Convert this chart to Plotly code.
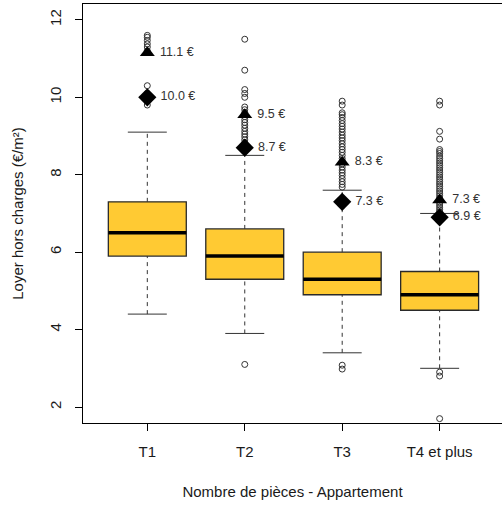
import plotly.graph_objects as go

# ---------------- data ----------------
categories = ["T1", "T2", "T3", "T4 et plus"]
positions = [1, 2, 3, 4]

q1 = [5.9, 5.3, 4.9, 4.5]
median = [6.5, 5.9, 5.3, 4.9]
q3 = [7.3, 6.6, 6.0, 5.5]
whisker_low = [4.4, 3.9, 3.4, 3.0]
whisker_high = [9.1, 8.5, 7.6, 7.0]

outliers_T1 = [11.6, 11.55, 11.47, 11.38, 11.3, 11.2, 10.3, 10.1, 10.0, 9.8]
outliers_T2 = [11.5, 10.7, 10.2, 10.1, 10.0, 9.75, 9.68, 9.6, 9.5, 9.42, 9.35,
               9.28, 9.2, 9.12, 9.05, 8.98, 8.9, 8.82, 8.75, 8.68, 8.6, 3.1]
outliers_T3 = [9.9, 9.8, 9.6, 9.55, 9.48, 9.4, 9.32, 9.25, 9.18, 9.1, 9.02,
               8.95, 8.88, 8.8, 8.72, 8.65, 8.58, 8.5, 8.42, 8.35, 8.28, 8.2,
               8.12, 8.05, 7.98, 7.9, 7.82, 7.75, 7.68, 3.08, 2.98]
outliers_T4 = [9.9, 9.8, 9.12, 8.92, 8.65, 8.6, 8.55, 8.48, 8.42, 8.36, 8.3,
               8.24, 8.18, 8.12, 8.06, 8.0, 7.94, 7.88, 7.82, 7.76, 7.7, 7.64,
               7.58, 7.52, 7.46, 7.4, 7.34, 7.28, 7.22, 7.16, 7.1, 7.05,
               2.9, 2.8, 1.7]
outliers = [outliers_T1, outliers_T2, outliers_T3, outliers_T4]

triangle_values = [11.15, 9.55, 8.32, 7.35]
triangle_labels = ["11.1 €", "9.5 €", "8.3 €", "7.3 €"]
diamond_values = [10.0, 8.7, 7.3, 6.9]
diamond_labels = ["10.0 €", "8.7 €", "7.3 €", "6.9 €"]

y_ticks = [2, 4, 6, 8, 10, 12]

# ---------------- style ----------------
FONT = "Liberation Sans, Arial, sans-serif"
FILL = "#FFCA33"
DARK = "#333333"
BOX_W = 0.8
CAP_W = 0.4

fig = go.Figure()

# whiskers (dashed)
wx, wy = [], []
for p, lo, a, b, hi in zip(positions, whisker_low, q1, q3, whisker_high):
    wx += [p, p, None, p, p, None]
    wy += [lo, a, None, b, hi, None]
fig.add_trace(go.Scatter(x=wx, y=wy, mode="lines",
                         line=dict(color=DARK, width=1, dash="4px,4px"),
                         hoverinfo="skip", showlegend=False))

# caps
cx, cy = [], []
for p, lo, hi in zip(positions, whisker_low, whisker_high):
    cx += [p - CAP_W / 2, p + CAP_W / 2, None, p - CAP_W / 2, p + CAP_W / 2, None]
    cy += [lo, lo, None, hi, hi, None]
fig.add_trace(go.Scatter(x=cx, y=cy, mode="lines",
                         line=dict(color=DARK, width=1),
                         hoverinfo="skip", showlegend=False))

# boxes
fig.add_trace(go.Box(x=positions, q1=q1, median=median, q3=q3,
                     lowerfence=q1, upperfence=q3, width=BOX_W,
                     fillcolor=FILL, line=dict(color="#2a2a2a", width=1.3),
                     boxpoints=False, showlegend=False, whiskerwidth=0))

# medians
mx, my = [], []
for p, m in zip(positions, median):
    mx += [p - BOX_W / 2, p + BOX_W / 2, None]
    my += [m, m, None]
fig.add_trace(go.Scatter(x=mx, y=my, mode="lines",
                         line=dict(color="black", width=3.5),
                         hoverinfo="skip", showlegend=False))

# outliers
ox, oy = [], []
for p, vals in zip(positions, outliers):
    ox += [p] * len(vals)
    oy += vals
fig.add_trace(go.Scatter(x=ox, y=oy, mode="markers",
                         marker=dict(symbol="circle-open", size=6,
                                     color=DARK, line=dict(width=1, color=DARK)),
                         showlegend=False))

# triangles and diamonds with labels
fig.add_trace(go.Scatter(x=positions, y=triangle_values, mode="markers+text",
                         marker=dict(symbol="triangle-up", size=13, color="black"),
                         text=[" " + t for t in triangle_labels],
                         textposition="middle right",
                         textfont=dict(family=FONT, size=12.5, color=DARK),
                         showlegend=False))
fig.add_trace(go.Scatter(x=positions, y=diamond_values, mode="markers+text",
                         marker=dict(symbol="diamond", size=14, color="black"),
                         text=[" " + t for t in diamond_labels],
                         textposition="middle right",
                         textfont=dict(family=FONT, size=12.5, color=DARK),
                         showlegend=False))

fig.update_layout(
    width=502, height=509,
    margin=dict(l=83, r=0, t=4, b=86),
    paper_bgcolor="white", plot_bgcolor="white",
    font=dict(family=FONT, size=15, color="#1a1a1a"),
    showlegend=False, hovermode=False,
)
fig.update_xaxes(
    range=[0.34, 4.64], tickvals=positions, ticktext=categories,
    ticks="outside", ticklen=7, tickcolor="black", tickwidth=1,
    showline=True, linecolor="black", linewidth=1, mirror=True,
    showgrid=False, zeroline=False, ticklabelstandoff=8, automargin=False,
    title=dict(text="Nombre de pièces - Appartement", standoff=27,
               font=dict(size=15)),
)
fig.update_yaxes(
    range=[1.587, 12.41], tickvals=y_ticks,
    ticks="outside", ticklen=7, tickcolor="black", tickwidth=1,
    showline=True, linecolor="black", linewidth=1, automargin=False,
    showgrid=False, zeroline=False, tickangle=-90, ticklabelstandoff=8,
    title=dict(text="Loyer hors charges (€/m²)", standoff=19,
               font=dict(size=15)),
)

fig.write_html(
    "out.html",
    config={"displayModeBar": False, "staticPlot": True},
    post_script="document.body.style.margin='0';document.body.style.overflow='hidden';",
)
